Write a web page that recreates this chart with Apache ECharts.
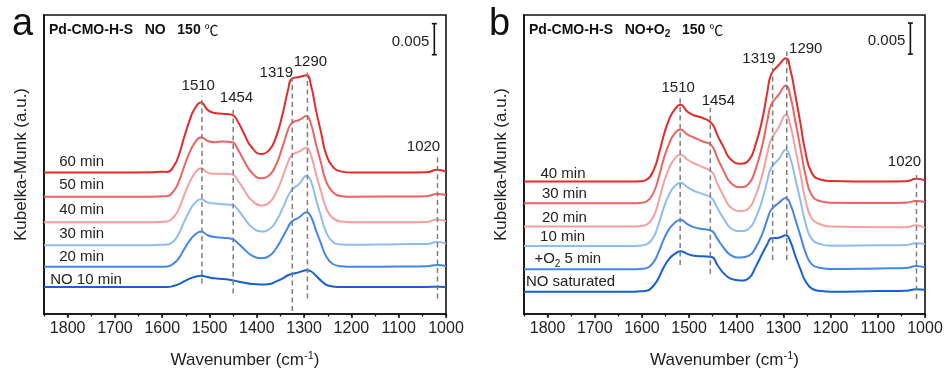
<!DOCTYPE html>
<html><head><meta charset="utf-8">
<script src="https://cdn.jsdelivr.net/npm/echarts@6/dist/echarts.min.js"></script>
<style>html,body{margin:0;padding:0;background:#fff}#c{width:947px;height:374px}</style>
</head><body><div id="c"></div>
<script>
// wavenumber grid (cm-1), shared by all spectra
const wavenumbers = [1850, 1700, 1620, 1605, 1590, 1575, 1564, 1554, 1543, 1532, 1518, 1504, 1490, 1472, 1452, 1440, 1426, 1412, 1391, 1373, 1359, 1345, 1334, 1326, 1310, 1295, 1285, 1275, 1264, 1254, 1240, 1220, 1200, 1100, 1040, 1019, 1000];

// Panel a: NO adsorption (K-M intensity above own baseline, units of 0.001)
const aNames = ['60 min', '50 min', '40 min', '30 min', '20 min', 'NO 10 min'];
const a60 = [0, 0, 0.05, 0.15, 0.1, 1.1, 3.0, 5.6, 8.2, 10.2, 11.3, 10.1, 9.6, 9.5, 9.3, 8.2, 6.1, 4.2, 3.0, 3.7, 5.8, 9.6, 13.3, 15.1, 15.4, 15.7, 13.9, 10.1, 6.4, 3.1, 1.0, 0.15, 0, 0, 0.05, 0.45, 0.15];
const a50 = [0, 0, 0, 0.05, 0.1, 1.0, 2.6, 4.8, 7.0, 8.6, 9.6, 9.0, 8.8, 8.9, 8.8, 7.6, 5.7, 4.0, 3.0, 3.5, 5.2, 8.2, 10.8, 11.9, 12.4, 13.0, 11.6, 8.5, 5.4, 2.6, 0.8, 0.1, 0, 0.05, 0.1, 0.45, 0.27];
const a40 = [0, 0, 0, 0.05, 0.1, 0.9, 2.3, 4.3, 6.3, 7.8, 8.7, 8.0, 7.8, 7.8, 7.7, 6.7, 5.1, 3.6, 2.7, 3.2, 4.8, 7.4, 9.7, 10.8, 11.4, 12.0, 10.7, 7.8, 4.9, 2.4, 0.7, 0.1, 0, 0, 0.05, 0.45, 0.15];
const a30 = [0, 0, 0, 0.05, 0.1, 0.7, 2.0, 3.7, 5.4, 6.7, 7.4, 6.9, 6.7, 6.6, 6.5, 5.7, 4.3, 3.0, 2.2, 2.6, 3.9, 6.0, 7.9, 8.9, 9.9, 11.2, 10.2, 7.4, 4.6, 2.2, 0.6, 0.1, 0.05, 0.15, 0.2, 0.5, 0.25];
const a20 = [0, 0, 0, 0, 0.05, 0.6, 1.5, 2.8, 4.1, 5.1, 5.7, 5.1, 4.8, 4.7, 4.5, 3.8, 2.8, 1.9, 1.4, 1.8, 3.0, 4.8, 6.4, 7.3, 8.0, 8.8, 8.0, 5.9, 3.7, 1.8, 0.5, 0.1, 0, 0.05, 0.1, 0.3, 0.15];
const a10 = [0, 0, 0, 0, 0, 0.2, 0.5, 0.9, 1.3, 1.6, 1.8, 1.6, 1.4, 1.3, 1.1, 0.9, 0.7, 0.5, 0.4, 0.5, 0.9, 1.4, 1.9, 2.1, 2.4, 2.7, 2.5, 1.8, 1.0, 0.4, 0.1, 0, 0, 0, 0, 0.05, 0];
const aOffsets = [22.8, 18.9, 14.8, 11.1, 7.6, 4.35];

// Panel b: NO + O2
const bNames = ['40 min', '30 min', '20 min', '10 min', '+O2 5 min', 'NO saturated'];
const b40 = [0, 0, 0, 0.05, 0.3, 1.9, 4.5, 7.4, 9.9, 11.5, 12.4, 11.3, 10.7, 10.3, 9.4, 7.5, 5.4, 3.6, 2.9, 3.5, 6.0, 10.0, 14.5, 17.3, 18.8, 19.9, 17.9, 14.0, 9.4, 5.0, 1.4, 0.3, 0.1, 0, 0.05, 0.45, 0.2];
const b30 = [0, 0, 0, 0.05, 0.3, 1.8, 4.3, 7.1, 9.5, 11.1, 11.9, 11.1, 10.6, 10.0, 9.3, 7.3, 5.1, 3.3, 2.6, 3.2, 5.5, 9.3, 13.4, 15.9, 17.5, 19.0, 17.1, 13.3, 8.9, 4.8, 1.3, 0.3, 0.1, 0.05, 0.1, 0.35, 0.2];
const b20 = [0, 0, 0, 0.05, 0.3, 1.7, 4.2, 7.0, 9.3, 10.8, 11.6, 10.8, 10.2, 9.6, 8.8, 6.9, 4.8, 3.1, 2.5, 3.0, 5.0, 8.3, 11.9, 14.0, 16.0, 18.0, 16.2, 12.6, 8.5, 4.5, 1.3, 0.3, 0, -0.1, -0.1, 0.2, -0.2];
const b10 = [0, 0, 0, 0.05, 0.25, 1.5, 3.7, 6.1, 8.2, 9.5, 10.2, 9.5, 8.9, 8.4, 7.7, 6.1, 4.3, 2.9, 2.4, 2.8, 4.5, 7.4, 10.6, 12.6, 14.0, 15.5, 14.0, 10.9, 7.3, 3.9, 1.1, 0.25, 0.05, 0.1, 0.15, 0.45, 0.3];
const b5 = [0, 0, 0, 0.05, 0.2, 1.2, 2.9, 4.8, 6.4, 7.4, 8.0, 7.3, 6.8, 6.5, 6.2, 4.9, 3.4, 2.3, 1.9, 2.2, 3.5, 5.7, 8.1, 9.6, 10.7, 11.5, 10.4, 8.1, 5.4, 2.9, 0.8, 0.2, 0.05, 0.15, 0.2, 0.55, 0.3];
const bNO = [0, 0, 0, 0.05, 0.15, 1.0, 2.3, 3.9, 5.2, 6.0, 6.5, 6.1, 5.8, 5.7, 5.6, 4.3, 2.9, 2.1, 1.8, 2.2, 4.0, 6.1, 7.7, 8.6, 8.7, 9.1, 8.0, 5.8, 3.6, 1.8, 0.5, 0.1, 0, 0.1, 0.15, 0.4, 0.3];
const bOffsets = [21.34, 17.85, 14.1, 10.97, 7.2, 3.6];

// Peak markers
const peakLabels = ['1510', '1454', '1319', '1290', '1020'];
const aPeakPos = [1516, 1450, 1325, 1293, 1018];
const aPeakTop = [35.2, 33.2, 38.1, 39.4, 25.6];
const aPeakBottom = [4.9, 3.3, 0.5, 2.5, 2.5];
const bPeakPos = [1519, 1455, 1323, 1293, 1018];
const bPeakTop = [35.3, 33.2, 40.4, 42.3, 23.0];
const bPeakBottom = [7.9, 6.5, 8.7, 8.7, 2.4];

const scaleBarValue = 5; // 0.005 in units of 0.001
const scaleBarLabel = '0.005';

// ---------- styling / layout ----------
const FONT = "'Liberation Sans', Arial, Helvetica, sans-serif";
const colors = ['#e52a2a', '#ec6363', '#f5a0a0', '#8fbdf3', '#4487e4', '#1660d2'];
const panels = [
  { grid: { left: 44, right: 501, top: 15, bottom: 60 }, names: aNames, spectra: [a60, a50, a40, a30, a20, a10], offsets: aOffsets,
    peakPos: aPeakPos, peakTop: aPeakTop, peakBottom: aPeakBottom,
    peakLabelShift: [[-3.7, -10], [3.3, -10], [-16, -5], [3, -8], [-14, -8]],
    nameAnchor: [1818, 1818, 1818, 1818, 1818, 1837], nameDy: [-10.7, -12, -12, -11.6, -10, -7.3],
    bar: { x: 1024.7, top: 46.8 }, letter: 'a', letterX: 12 },
  { grid: { left: 524, right: 22, top: 15, bottom: 60 }, names: bNames, spectra: [b40, b30, b20, b10, b5, bNO], offsets: bOffsets,
    peakPos: bPeakPos, peakTop: bPeakTop, peakBottom: bPeakBottom,
    peakLabelShift: [[-2, -7], [8, -7.6], [-13.6, -5], [19, -2.4], [-12, -9.4]],
    nameAnchor: [1815, 1812, 1812, 1816, 1828, 1846], nameDy: [-7.7, -9, -9, -8.7, -10.3, -10],
    bar: { x: 1031, top: 46.9 }, letter: 'b', letterX: 489 }
];

const chart = echarts.init(document.getElementById('c'), null, { renderer: 'canvas' });

const xAxes = [], yAxes = [], series = [];
panels.forEach((p, i) => {
  xAxes.push({
    gridIndex: i, type: 'value', min: 1000, max: 1850, interval: 100, inverse: true, position: 'bottom',
    axisLine: { show: true, lineStyle: { color: '#111', width: 1.6 } },
    axisTick: { show: true, length: 4, lineStyle: { color: '#111', width: 1.5 } },
    axisLabel: { fontSize: 16, color: '#222', fontFamily: FONT, margin: 7, showMaxLabel: false, formatter: v => String(v) },
    splitLine: { show: false },
    name: '{t|Wavenumber (cm}{s|-1}{t|)}', nameLocation: 'middle', nameGap: 36,
    nameTextStyle: { rich: {
      t: { fontSize: 17, fontFamily: FONT, color: '#222', lineHeight: 20 },
      s: { fontSize: 11, fontFamily: FONT, color: '#222', lineHeight: 11, verticalAlign: 'top' } } }
  });
  xAxes.push({
    gridIndex: i, type: 'value', min: 1000, max: 1850, interval: 50, inverse: true, position: 'bottom', offset: 0,
    axisLine: { show: false }, axisTick: { show: true, length: 2.5, lineStyle: { color: '#111', width: 1.3 } },
    axisLabel: { show: false }, splitLine: { show: false }
  });
  yAxes.push({
    gridIndex: i, type: 'value', min: 0, max: 48.2,
    axisLine: { show: true, lineStyle: { color: '#111', width: 1.6 } },
    axisTick: { show: false }, axisLabel: { show: false }, splitLine: { show: false },
    name: 'Kubelka-Munk (a.u.)', nameLocation: 'middle', nameGap: 14,
    nameTextStyle: { fontSize: 17, color: '#222', fontFamily: FONT }
  });
  p.spectra.forEach((vals, k) => {
    series.push({
      type: 'line', name: p.names[k], xAxisIndex: i * 2, yAxisIndex: i,
      data: wavenumbers.map((w, j) => [w, p.offsets[k] + vals[j]]),
      showSymbol: false, smooth: 0.5,
      lineStyle: { color: colors[k], width: 2 }, itemStyle: { color: colors[k] }, z: 2, silent: true
    });
  });
  p.peakPos.forEach((pos, k) => {
    series.push({
      type: 'line', xAxisIndex: i * 2, yAxisIndex: i,
      data: [[pos, p.peakBottom[k]], [pos, p.peakTop[k]]],
      showSymbol: false, lineStyle: { color: '#7d7d7d', width: 1.5, type: [5, 3.5] }, z: 4, silent: true
    });
  });
});

chart.setOption({
  animation: false,
  backgroundColor: '#fff',
  grid: panels.map(p => Object.assign({ show: true, borderColor: '#111', borderWidth: 1.6, backgroundColor: 'transparent' }, p.grid)),
  xAxis: xAxes, yAxis: yAxes, series: series
});

// ---------- annotations positioned through the axes ----------
const graphics = [];
const txt = (x, y, text, extra) => graphics.push({ type: 'text', x, y, z: 10, style: Object.assign({ text, fill: '#222', font: '15px ' + FONT, textAlign: 'left', textVerticalAlign: 'middle' }, extra || {}) });
panels.forEach((p, i) => {
  const px = v => chart.convertToPixel({ gridIndex: i }, v);
  p.names.forEach((n, k) => {
    const pt = px([p.nameAnchor[k], p.offsets[k]]);
    if (n.indexOf('+O2') === 0) {
      graphics.push({ type: 'text', x: pt[0], y: pt[1] + p.nameDy[k], z: 10, style: {
        text: '{n|+O}{s|2}{n| 5 min}', textAlign: 'left', textVerticalAlign: 'middle',
        rich: { n: { fontSize: 15, fontFamily: FONT, fill: '#222', lineHeight: 20 }, s: { fontSize: 10, fontFamily: FONT, fill: '#222', lineHeight: 12, verticalAlign: 'bottom' } } } });
    } else txt(pt[0], pt[1] + p.nameDy[k], n);
  });
  p.peakPos.forEach((pos, k) => {
    const pt = px([pos, p.peakTop[k]]);
    txt(pt[0] + p.peakLabelShift[k][0], pt[1] + p.peakLabelShift[k][1], peakLabels[k], { textAlign: 'center' });
  });
  const t = px([p.bar.x, p.bar.top]), b = px([p.bar.x, p.bar.top - scaleBarValue]);
  const ls = { stroke: '#111', lineWidth: 1.6 };
  graphics.push({ type: 'line', z: 10, shape: { x1: t[0], y1: t[1], x2: b[0], y2: b[1] }, style: ls });
  graphics.push({ type: 'line', z: 10, shape: { x1: t[0] - 2.5, y1: t[1], x2: t[0] + 2.5, y2: t[1] }, style: ls });
  graphics.push({ type: 'line', z: 10, shape: { x1: b[0] - 2.5, y1: b[1], x2: b[0] + 2.5, y2: b[1] }, style: ls });
  txt(t[0] - 5, t[1] + 18, scaleBarLabel, { textAlign: 'right' });
  txt(p.letterX, 25, p.letter, { font: '38px ' + FONT, fill: '#111' });
  const g = chart.getModel().getComponent('grid', i).coordinateSystem.getRect();
  const title = i === 0 ? '{b|Pd-CMO-H-S   NO   150 }{c|℃}' : '{b|Pd-CMO-H-S   NO+O}{s|2}{b|   150 }{c|℃}';
  graphics.push({ type: 'text', x: g.x + 5, y: 30, z: 10, style: {
    text: title, textAlign: 'left', textVerticalAlign: 'middle',
    rich: {
      b: { fontSize: 14, fontWeight: 'bold', fontFamily: FONT, fill: '#111', lineHeight: 18 },
      s: { fontSize: 10, fontWeight: 'bold', fontFamily: FONT, fill: '#111', lineHeight: 11, verticalAlign: 'bottom' },
      c: { fontSize: 14, fontFamily: "'Noto Sans CJK SC', 'DejaVu Sans', sans-serif", fill: '#111', lineHeight: 18 } } } });
});
chart.setOption({ graphic: graphics });
</script>
</body></html>
